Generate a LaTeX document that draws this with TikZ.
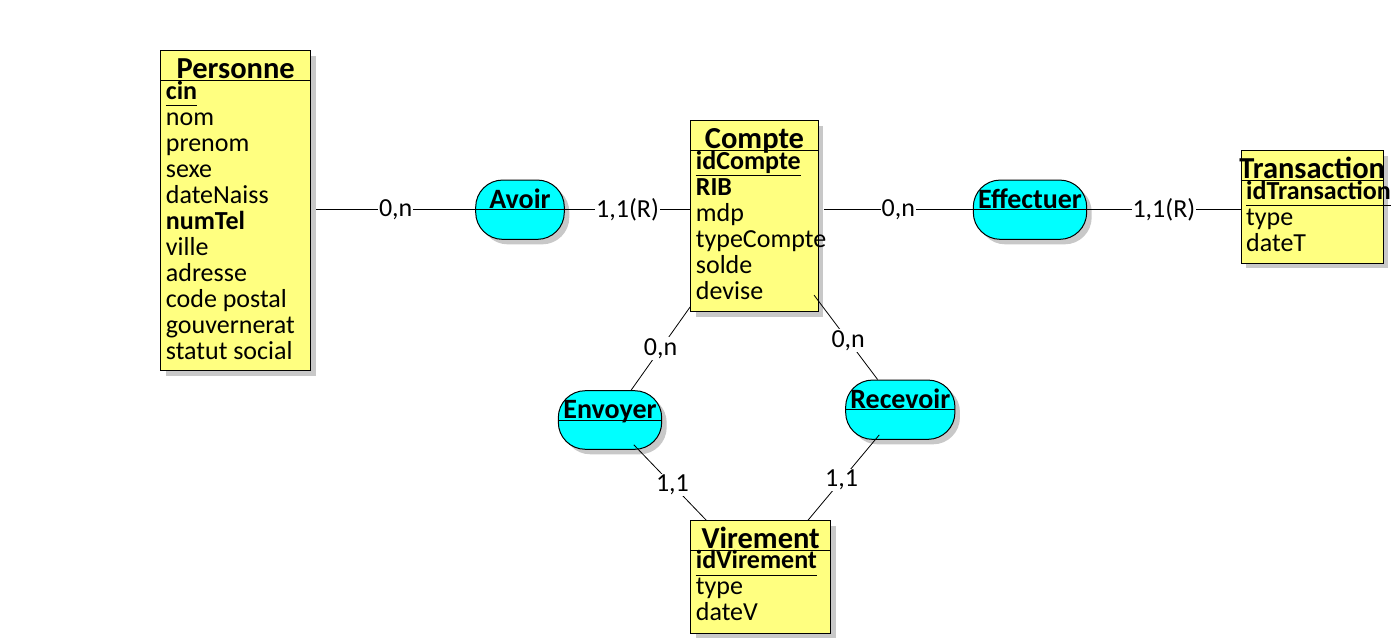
\documentclass[tikz,border=0pt]{standalone}
\usepackage{fontspec}
\setmainfont{Carlito}
\usetikzlibrary{shadows}
\definecolor{entyellow}{RGB}{255,255,128}
\definecolor{assoccyan}{RGB}{0,255,255}
\definecolor{shadowgray}{RGB}{200,200,200}
\begin{document}
\begin{tikzpicture}[x=1pt,y=-1pt,
  shd/.style={drop shadow={shadow xshift=5pt, shadow yshift=-5pt, fill=shadowgray, opacity=1}},
  entity/.style={draw=black, line width=1pt, fill=entyellow, rectangle, inner sep=0pt, shd},
  assoc/.style={draw=black, line width=1pt, fill=assoccyan, rectangle, rounded corners=27pt, inner sep=0pt, shd},
  sepline/.style={draw=black, line width=1pt},
  ttl/.style={anchor=base, inner sep=0pt, font=\fontsize{30.5}{32}\selectfont\bfseries},
  atext/.style={anchor=base, inner sep=0pt, font=\fontsize{28}{30}\selectfont\bfseries},
  attr/.style={anchor=base west, inner sep=0pt, font=\fontsize{26}{28}\selectfont},
  keyattr/.style={attr, font=\fontsize{26}{28}\selectfont\bfseries},
  conn/.style={draw=black, line width=0.8pt},
  card/.style={fill=white, inner sep=1pt, font=\fontsize{26}{28}\selectfont}
]
\useasboundingbox[fill=white] (0,0) rectangle (1394,644);

% ---------- Personne ----------
\node[entity, minimum width=150pt, minimum height=320pt] (personne) at (235.7,210.7) {};
\draw[sepline] (personne.west |- 0,80.7) -- (personne.east |- 0,80.7);
\node[ttl] (personne-t) at (235.7,79) {Personne};
\node[keyattr] (pers0) at (165.7,99.2) {cin};
\draw[line width=1pt] ([yshift=-6.5pt]pers0.base west) -- ([yshift=-6.5pt]pers0.base east);
\foreach \t [count=\i] in {nom,prenom,sexe,dateNaiss,\textbf{numTel},ville,adresse,code postal,gouvernerat,statut social}
  \node[attr] (pers\i) at ({165.7},{125.2+26*(\i-1)}) {\t};

% ---------- Compte ----------
\node[entity, minimum width=127.6pt, minimum height=191pt] (compte) at (754.5,216.2) {};
\draw[sepline] (compte.west |- 0,150.7) -- (compte.east |- 0,150.7);
\node[ttl] (compte-t) at (754.5,149) {Compte};
\node[keyattr] (cpt0) at (695.7,169.2) {idCompte};
\draw[line width=1pt] ([yshift=-6.5pt]cpt0.base west) -- ([yshift=-6.5pt]cpt0.base east);
\foreach \t [count=\i] in {\textbf{RIB},mdp,typeCompte,solde,devise}
  \node[attr] (cpt\i) at ({695.7},{195.2+26*(\i-1)}) {\t};

% ---------- Transaction ----------
\node[entity, minimum width=142.3pt, minimum height=112.6pt] (transaction) at (1312.2,207) {};
\draw[sepline] (transaction.west |- 0,180.7) -- (transaction.east |- 0,180.7);
\node[ttl] (transaction-t) at (1312.2,179) {Transaction};
\node[keyattr] (tr0) at (1246,199.2) {idTransaction};
\draw[line width=1pt] ([yshift=-6.5pt]tr0.base west) -- ([yshift=-6.5pt]tr0.base east);
\foreach \t [count=\i] in {type,dateT}
  \node[attr] (tr\i) at ({1246},{225.2+26*(\i-1)}) {\t};

% ---------- Virement ----------
\node[entity, minimum width=140pt, minimum height=112.6pt] (virement) at (760.7,577) {};
\draw[sepline] (virement.west |- 0,550) -- (virement.east |- 0,550);
\node[ttl] (virement-t) at (760.7,548.3) {Virement};
\node[keyattr] (vir0) at (695.7,568.5) {idVirement};
\draw[line width=1pt] ([yshift=-6.5pt]vir0.base west) -- ([yshift=-6.5pt]vir0.base east);
\foreach \t [count=\i] in {type,dateV}
  \node[attr] (vir\i) at ({695.7},{594.5+26*(\i-1)}) {\t};

% ---------- Associations ----------
\node[assoc, minimum width=88.6pt, minimum height=59.3pt] (avoir) at (520,209.7) {};
\draw[sepline] (avoir.west) -- (avoir.east);
\node[atext] (avoir-t) at (520,208.2) {Avoir};

\node[assoc, minimum width=113.4pt, minimum height=59.3pt] (effectuer) at (1030,209.7) {};
\draw[sepline] (effectuer.west) -- (effectuer.east);
\node[atext] (effectuer-t) at (1030,208.2) {Effectuer};

\node[assoc, minimum width=103.4pt, minimum height=58.6pt] (envoyer) at (610,420) {};
\draw[sepline] (envoyer.west) -- (envoyer.east);
\node[atext] (envoyer-t) at (610,418.5) {Envoyer};

\node[assoc, minimum width=109.3pt, minimum height=59.3pt] (recevoir) at (900.3,409.7) {};
\draw[sepline] (recevoir.west) -- (recevoir.east);
\node[atext] (recevoir-t) at (900.3,408.2) {Recevoir};

% ---------- Connectors ----------
\draw[conn] ([xshift=5pt]personne.east |- avoir.west) -- node[card] (c1) {0,n} (avoir.west);
\draw[conn] (avoir.east) -- node[card] (c2) {1,1(R)} (compte.west |- avoir.east);
\draw[conn] ([xshift=5pt]compte.east |- effectuer.west) -- node[card] (c3) {0,n} (effectuer.west);
\draw[conn] (effectuer.east) -- node[card] (c4) {1,1(R)} (transaction.west |- effectuer.east);
\draw[conn] (compte) -- node[card] (c5) {0,n} (envoyer);
\draw[conn, shorten <=-8pt] (compte) -- node[card] (c6) {0,n} (recevoir);
\draw[conn, shorten <=-7pt] (envoyer) -- node[card] (c7) {1,1} (virement);
\draw[conn, shorten <=-6.5pt] (recevoir) -- node[card] (c8) {1,1} (virement);
\end{tikzpicture}
\end{document}
